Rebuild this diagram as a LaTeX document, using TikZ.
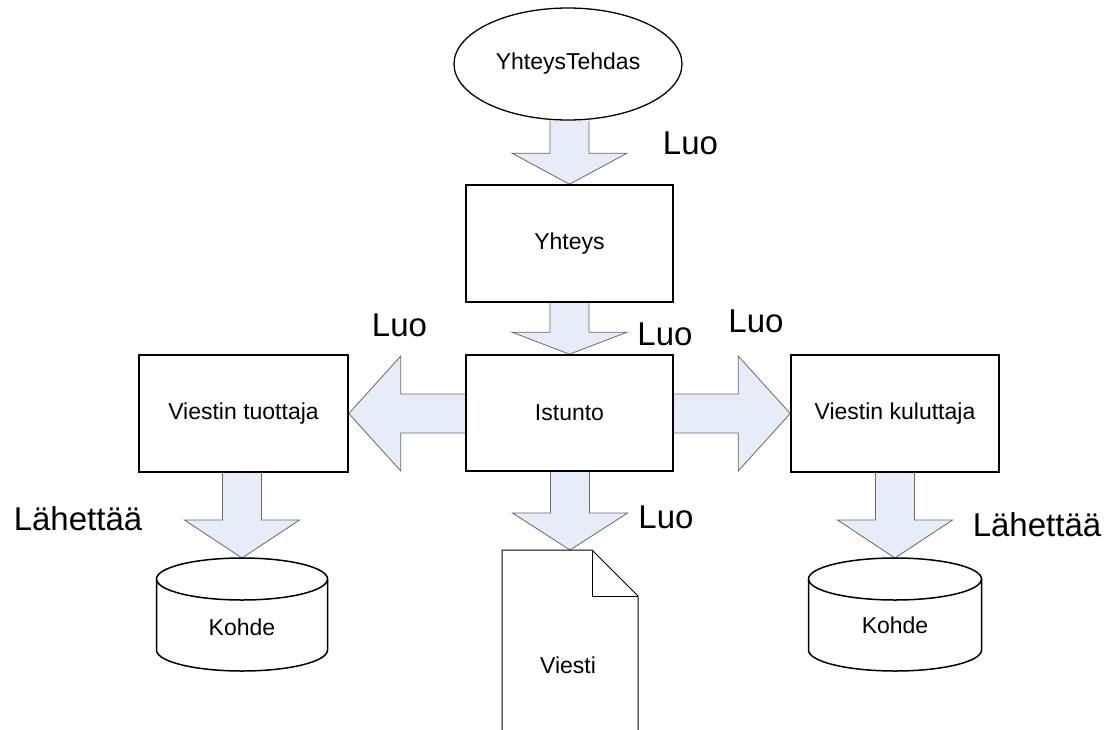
\documentclass[tikz,border=0pt]{standalone}
\usepackage{fontspec}
\setmainfont{Liberation Sans}
\usetikzlibrary{calc,shapes.geometric,backgrounds}
\definecolor{afill}{RGB}{231,237,248}
\definecolor{aline}{RGB}{105,105,105}
\tikzset{
  boxnode/.style={draw=black, line width=1.6pt, rectangle, minimum height=117pt, inner sep=0pt, font=\fontsize{23}{27}\selectfont},
  ellnode/.style={draw=black, line width=1.3pt, ellipse, minimum width=228pt, minimum height=112pt, inner sep=0pt, font=\fontsize{23}{27}\selectfont},
  plaintxt/.style={inner sep=0pt, font=\fontsize{23}{27}\selectfont},
  lbl/.style={anchor=base, inner sep=0pt, font=\fontsize{33}{38}\selectfont},
  barrow/.style={fill=afill, draw=aline, line width=0.8pt, line join=miter},
  cyl/.style={draw=black, line width=1.5pt},
  docline/.style={draw=black, line width=1pt, line join=miter}
}
\newcommand\blockdown[3]{%
  \filldraw[barrow] ($(#2 |- #1)+(-19.5,0)$) -- ($(#2)+(-19.5,-#3)$) -- ($(#2)+(-57.5,-#3)$) -- (#2) -- ($(#2)+(57.5,-#3)$) -- ($(#2)+(19.5,-#3)$) -- ($(#2 |- #1)+(19.5,0)$);}
\newcommand\blockleft[3]{%
  \filldraw[barrow] ($(#2 -| #1)+(0,-19.5)$) -- ($(#2)+(#3,-19.5)$) -- ($(#2)+(#3,-57.5)$) -- (#2) -- ($(#2)+(#3,57.5)$) -- ($(#2)+(#3,19.5)$) -- ($(#2 -| #1)+(0,19.5)$);}
\newcommand\blockright[3]{%
  \filldraw[barrow] ($(#2 -| #1)+(0,-19.5)$) -- ($(#2)+(-#3,-19.5)$) -- ($(#2)+(-#3,-57.5)$) -- (#2) -- ($(#2)+(-#3,57.5)$) -- ($(#2)+(-#3,19.5)$) -- ($(#2 -| #1)+(0,19.5)$);}
\begin{document}
\begin{tikzpicture}[x=1pt,y=-1pt]
\useasboundingbox (0,0) rectangle (1109,729);
% nodes
\node[ellnode] (yt) at (568,64) {YhteysTehdas};
\node[boxnode, minimum width=207pt] (yh) at (569.5,243.5) {Yhteys};
\node[boxnode, minimum width=207pt, minimum height=116pt] (is) at (569.5,413) {Istunto};
\node[boxnode, minimum width=209pt] (vt) at (243.5,413.5) {Viestin tuottaja};
\node[boxnode, minimum width=208pt] (vk) at (895,413.5) {Viestin kuluttaja};
% cylinders
\coordinate (k1top) at (242,558);
\coordinate (k2top) at (895,558);
\draw[cyl] ($(k1top)+(0,21)$) ellipse [x radius=85.5pt, y radius=21pt];
\draw[cyl] ($(k1top)+(-85.5,21)$) -- ++(0,71) arc[start angle=180, end angle=360, x radius=85.5pt, y radius=21pt] -- ++(0,-71);
\node[plaintxt] (k1) at (242,627) {Kohde};
\draw[cyl] ($(k2top)+(0,21)$) ellipse [x radius=86.5pt, y radius=21pt];
\draw[cyl] ($(k2top)+(-86.5,21)$) -- ++(0,71) arc[start angle=180, end angle=360, x radius=86.5pt, y radius=21pt] -- ++(0,-71);
\node[plaintxt] (k2) at (895,625) {Kohde};
% document
\coordinate (vtop) at (570,550);
\draw[docline] (502,735) -- (502,550) -- (592,550) -- (638,596) -- (638,735);
\draw[docline] (592,550) -- (592,596) -- (638,596);
\node[plaintxt] (vi) at (568,665) {Viesti};
% block arrows
\begin{scope}[on background layer]
\fill[white] (0,0) rectangle (1109,729);
\blockdown{yt.south}{yh.north}{31}
\blockdown{yh.south}{is.north}{22}
\blockdown{is.south}{vtop}{37}
\blockdown{vt.south}{k1top}{38}
\blockdown{vk.south}{k2top}{38}
\blockleft{is.west}{vt.east}{52}
\blockright{is.east}{vk.west}{52}
\end{scope}
% labels
\node[lbl] (l1) at (690.5,154) {Luo};
\node[lbl] (l2) at (665,345) {Luo};
\node[lbl] (l3) at (399.5,336) {Luo};
\node[lbl] (l4) at (756,332) {Luo};
\node[lbl] (l5) at (666,528) {Luo};
\node[lbl] (l6) at (78,530) {Lähettää};
\node[lbl] (l7) at (1037,536) {Lähettää};
\end{tikzpicture}
\end{document}
